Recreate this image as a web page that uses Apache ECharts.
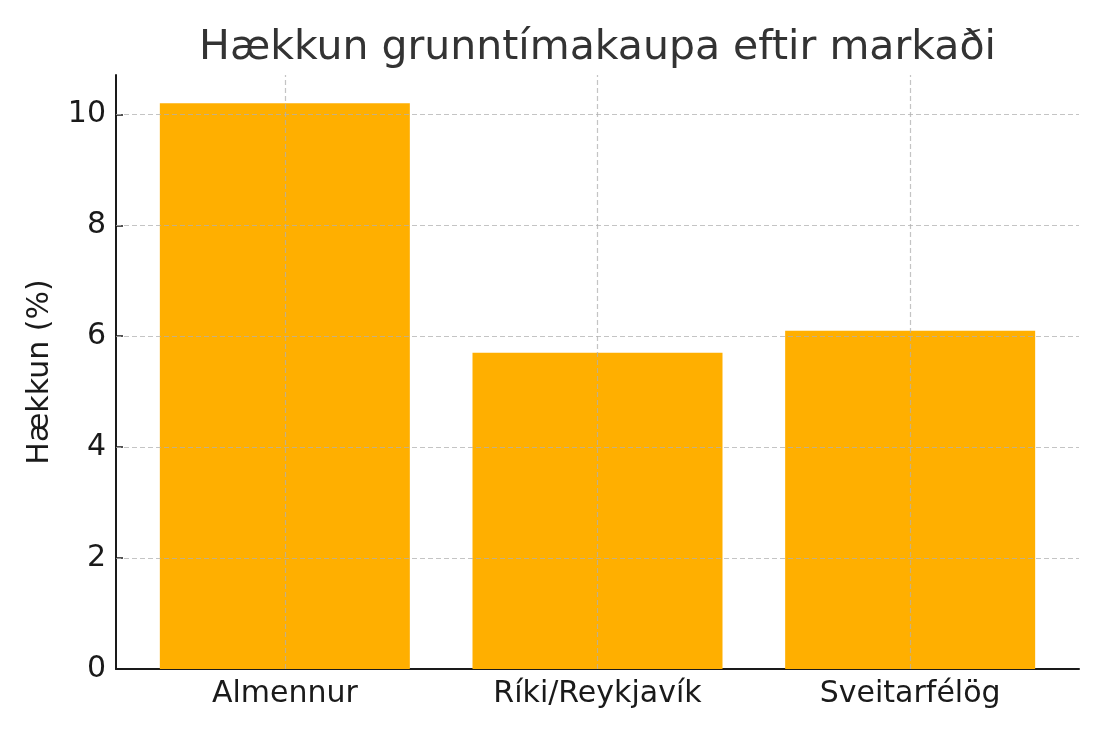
<!DOCTYPE html>
<html>
<head>
<meta charset="utf-8">
<script src="https://cdn.jsdelivr.net/npm/echarts@6/dist/echarts.min.js"></script>
<style>
html,body{margin:0;padding:0;background:#fff;}
#chart{width:1106px;height:737px;}
</style>
</head>
<body>
<div id="chart"></div>
<script>
const titleText = 'Hækkun grunntímakaupa eftir markaði';
const yAxisName = 'Hækkun (%)';
const categories = ['Almennur', 'Ríki/Reykjavík', 'Sveitarfélög'];
const values = [10.2, 5.7, 6.1];
const yTicks = [0, 2, 4, 6, 8, 10];
const catPositions = [0, 1, 2];

const font = 'DejaVu Sans';
const gridDash = { color: 'rgba(176,176,176,0.75)', width: 1.2, type: [5, 3] };

const chart = echarts.init(document.getElementById('chart'), null, { renderer: 'canvas' });
chart.setOption({
  animation: false,
  backgroundColor: '#ffffff',
  graphic: [{
    type: 'text',
    x: 597.5,
    y: 28,
    style: {
      text: titleText,
      fontFamily: font, fontSize: 41, fill: '#333333',
      textAlign: 'center', textVerticalAlign: 'top'
    }
  }],
  grid: { left: 116, right: 27, top: 75, bottom: 68, containLabel: false },
  xAxis: {
    type: 'value',
    min: -0.54,
    max: 2.54,
    axisLine: { show: true, onZero: false, lineStyle: { color: '#1a1a1a', width: 2 } },
    axisTick: { show: true, inside: true, length: 7, customValues: catPositions, lineStyle: { color: '#1a1a1a', width: 1.5 } },
    axisLabel: {
      customValues: catPositions,
      margin: 10,
      fontFamily: font, fontSize: 30, color: '#1a1a1a',
      formatter: v => categories[Math.round(v)]
    },
    splitLine: { show: false }
  },
  yAxis: {
    type: 'value',
    min: 0,
    max: 10.71,
    interval: 2,
    name: yAxisName,
    nameLocation: 'middle',
    nameGap: 61,
    nameRotate: 90,
    nameTextStyle: { fontFamily: font, fontSize: 30, color: '#1a1a1a' },
    axisLine: { show: true, onZero: false, lineStyle: { color: '#1a1a1a', width: 2 } },
    axisTick: { show: true, inside: true, length: 7, customValues: yTicks, lineStyle: { color: '#1a1a1a', width: 1.5 } },
    axisLabel: {
      customValues: yTicks,
      margin: 10,
      padding: [6, 0, 0, 0],
      fontFamily: font, fontSize: 30, color: '#1a1a1a'
    },
    splitLine: { show: false }
  },
  series: [{
    type: 'bar',
    data: catPositions.map((p, i) => [p, values[i]]),
    barWidth: 250,
    itemStyle: { color: '#FFAF00' },
    z: 2,
    markLine: {
      silent: true,
      symbol: ['none', 'none'],
      label: { show: false },
      lineStyle: gridDash,
      emphasis: { disabled: true },
      data: yTicks.filter(v => v > 0).map(v => ({ yAxis: v }))
        .concat(catPositions.map(p => ({ xAxis: p })))
    }
  }]
});
</script>
</body>
</html>
